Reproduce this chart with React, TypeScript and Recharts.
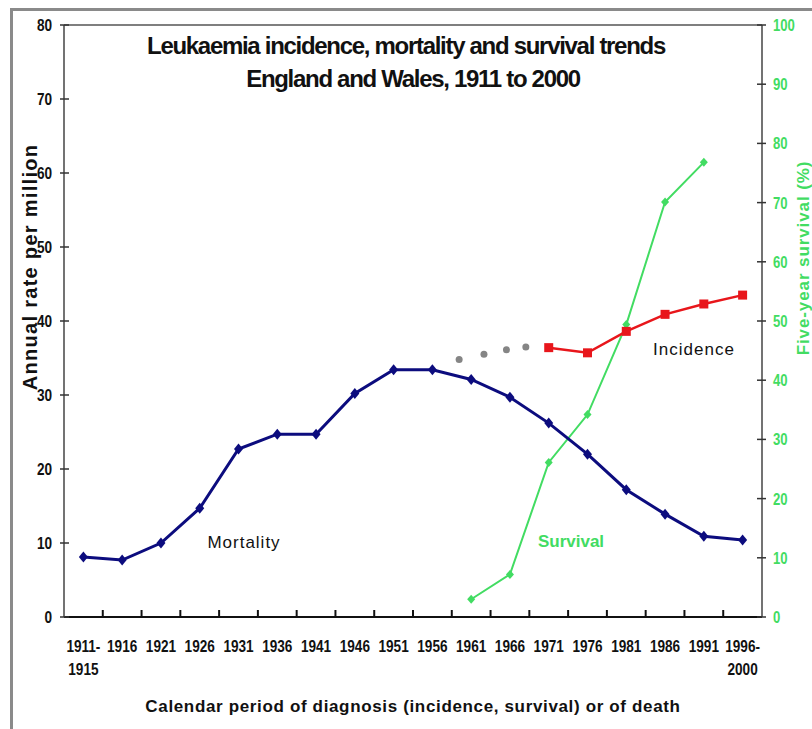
import React from "react";
import { ComposedChart, Line, Scatter, XAxis, YAxis, ReferenceLine } from "recharts";

// five-year periods of diagnosis / death
const periods = [
  "1911-|1915", "1916", "1921", "1926", "1931", "1936", "1941", "1946", "1951",
  "1956", "1961", "1966", "1971", "1976", "1981", "1986", "1991", "1996-|2000",
];
// annual rate per million (left axis)
const mortality = [8.1, 7.7, 10.0, 14.7, 22.7, 24.7, 24.7, 30.2, 33.4, 33.4, 32.1, 29.7, 26.2, 22.0, 17.2, 13.9, 10.9, 10.4];
const incidence = [null, null, null, null, null, null, null, null, null, null, null, null, 36.4, 35.7, 38.6, 40.9, 42.3, 43.5];
// five-year survival % (right axis)
const survival = [null, null, null, null, null, null, null, null, null, null, 3.0, 7.2, 26.1, 34.2, 49.4, 70.1, 76.8, null];
// dotted grey incidence estimates before 1971 (x in period units)
const greyX = [10.19, 10.83, 11.41, 11.91];
const greyRate = [34.8, 35.5, 36.1, 36.5];

const leftTicks = [0, 10, 20, 30, 40, 50, 60, 70, 80];
const rightTicks = [0, 10, 20, 30, 40, 50, 60, 70, 80, 90, 100];

const data = periods.map((p, i) => ({
  x: i + 0.5,
  mortality: mortality[i],
  incidence: incidence[i],
  survival: survival[i],
}));
const greyDots = greyX.map((x, i) => ({ x, rate: greyRate[i] }));

const NAVY = "#0c0c7e";
const RED = "#e8161b";
const GREEN = "#42dc62";
const BAND = 698 / periods.length;
const FONT = "'Liberation Sans', Arial, sans-serif";

// squeezed text, the original uses a narrow face
const Narrow = ({ x, y, anchor, fill, size, sx, children }: any) => (
  <text
    transform={`translate(${x},${y}) scale(${sx},1)`}
    x={0}
    y={0}
    textAnchor={anchor}
    fontFamily={FONT}
    fontWeight="bold"
    fontSize={size}
    fill={fill}
  >
    {children}
  </text>
);

const XTick = (props: any) => {
  const { x, y, payload } = props;
  const i = Math.floor(payload.value);
  const lines = periods[i].split("|");
  return (
    <g>
      {i > 0 && <line x1={x - BAND / 2} x2={x - BAND / 2} y1={y} y2={y - 7} stroke="#111" strokeWidth={2} />}
      {lines.map((l, k) => (
        <Narrow key={k} x={x} y={y + 35 + k * 23} anchor="middle" fill="#111" size={17} sx={0.8}>
          {l}
        </Narrow>
      ))}
    </g>
  );
};

const LeftTick = (props: any) => {
  const { x, y, payload } = props;
  return (
    <g>
      <line x1={x - 4} x2={x + 5} y1={y} y2={y} stroke="#333" strokeWidth={1.5} />
      <Narrow x={x - 12} y={y + 6} anchor="end" fill="#111" size={16} sx={0.85}>
        {payload.value}
      </Narrow>
    </g>
  );
};

const RightTick = (props: any) => {
  const { x, y, payload } = props;
  return (
    <g>
      <line x1={x - 5} x2={x + 4} y1={y} y2={y} stroke="#333" strokeWidth={1.5} />
      <Narrow x={x + 11} y={y + 6} anchor="start" fill={GREEN} size={16} sx={0.82}>
        {payload.value}
      </Narrow>
    </g>
  );
};

const diamond = (color: string, w: number, h: number) => (p: any) => {
  const { cx, cy, index } = p;
  if (cx == null || cy == null || p.value == null) return <g key={index} />;
  return <polygon key={index} points={`${cx},${cy - h} ${cx + w},${cy} ${cx},${cy + h} ${cx - w},${cy}`} fill={color} />;
};

const square = (p: any) => {
  const { cx, cy, index } = p;
  if (cx == null || cy == null || p.value == null) return <g key={index} />;
  return <rect key={index} x={cx - 4.5} y={cy - 4.5} width={9} height={9} fill={RED} />;
};

const abs = (style: React.CSSProperties): React.CSSProperties => ({
  position: "absolute",
  whiteSpace: "nowrap",
  fontFamily: FONT,
  ...style,
});

export default function App() {
  return (
    <div style={{ position: "absolute", left: 0, top: 0, width: 812, height: 729, background: "#fff", overflow: "hidden" }}>
      <div style={{ position: "absolute", left: 0, top: 0 }}>
        <ComposedChart width={812} height={729} data={data} margin={{ top: 25, right: 10, left: 14, bottom: 52 }}>
          <XAxis
            type="number"
            dataKey="x"
            domain={[0, 18]}
            ticks={data.map((d) => d.x)}
            interval={0}
            height={60}
            tickSize={0}
            tickMargin={0}
            tickLine={false}
            axisLine={{ stroke: "#111", strokeWidth: 2 }}
            tick={<XTick />}
          />
          <YAxis
            yAxisId="left"
            domain={[0, 80]}
            ticks={leftTicks}
            interval={0}
            width={50}
            tickSize={0}
            tickMargin={0}
            tickLine={false}
            axisLine={{ stroke: "#444", strokeWidth: 1.5 }}
            tick={<LeftTick />}
          />
          <YAxis
            yAxisId="right"
            orientation="right"
            domain={[0, 100]}
            ticks={rightTicks}
            interval={0}
            width={40}
            tickSize={0}
            tickMargin={0}
            tickLine={false}
            axisLine={{ stroke: "#444", strokeWidth: 1.5 }}
            tick={<RightTick />}
          />
          <ReferenceLine yAxisId="left" y={80} stroke="#555" strokeWidth={1.5} />
          <Line yAxisId="right" dataKey="survival" stroke={GREEN} strokeWidth={2} dot={diamond(GREEN, 4, 4.5)} activeDot={false} isAnimationActive={false} />
          <Line yAxisId="left" dataKey="incidence" stroke={RED} strokeWidth={2.5} dot={square} activeDot={false} isAnimationActive={false} />
          <Line yAxisId="left" dataKey="mortality" stroke={NAVY} strokeWidth={3} dot={diamond(NAVY, 4.5, 5.5)} activeDot={false} isAnimationActive={false} />
          <Scatter yAxisId="left" data={greyDots} dataKey="rate" fill="#858585" shape={(p: any) => <circle cx={p.cx} cy={p.cy} r={3.5} fill="#858585" />} isAnimationActive={false} />
        </ComposedChart>
      </div>
      <div style={{ position: "absolute", left: 10, top: 8, width: 802, height: 721, borderLeft: "3px solid #8a8a8a", borderTop: "3px solid #8a8a8a", pointerEvents: "none" }} />

      <div style={abs({ left: 406, top: 32, transform: "translateX(-50%)", fontSize: 24, fontWeight: "bold", letterSpacing: -1.3, color: "#111" })}>
        Leukaemia incidence, mortality and survival trends
      </div>
      <div style={abs({ left: 413, top: 65, transform: "translateX(-50%)", fontSize: 24, fontWeight: "bold", letterSpacing: -1.3, color: "#111" })}>
        England and Wales, 1911 to 2000
      </div>

      <div style={abs({ left: 30, top: 267, transform: "translate(-50%, -50%) rotate(-90deg)", fontSize: 20, fontWeight: "bold", letterSpacing: 1.3, color: "#111" })}>
        Annual rate per million
      </div>
      <div style={abs({ left: 804, top: 258, transform: "translate(-50%, -50%) rotate(-90deg)", fontSize: 17, fontWeight: "bold", letterSpacing: 0.9, color: GREEN })}>
        Five-year survival (%)
      </div>
      <div style={abs({ left: 413, top: 707, transform: "translate(-50%, -50%)", fontSize: 17, fontWeight: "bold", letterSpacing: 0.65, color: "#111" })}>
        Calendar period of diagnosis (incidence, survival) or of death
      </div>

      <div style={abs({ left: 244, top: 543, transform: "translate(-50%, -50%)", fontSize: 17, letterSpacing: 1, color: "#111" })}>
        Mortality
      </div>
      <div style={abs({ left: 694, top: 350, transform: "translate(-50%, -50%)", fontSize: 17, letterSpacing: 1, color: "#111" })}>
        Incidence
      </div>
      <div style={abs({ left: 571, top: 542, transform: "translate(-50%, -50%)", fontSize: 17, fontWeight: "bold", color: GREEN })}>
        Survival
      </div>
    </div>
  );
}
